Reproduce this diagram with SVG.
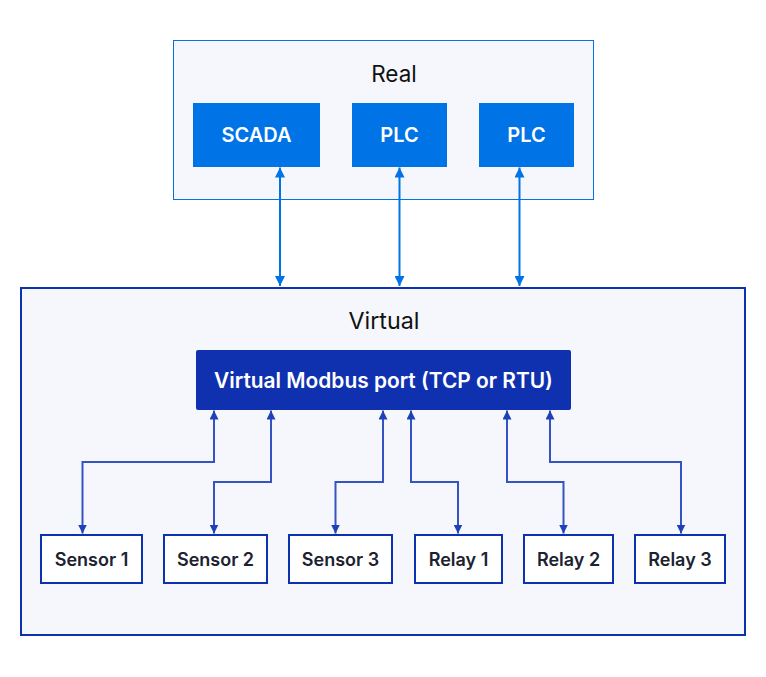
<svg xmlns="http://www.w3.org/2000/svg" width="766" height="677" viewBox="0 0 766 677">
<style>
.grp{fill:#f5f7fc}
.title{font-family:Inter,"Liberation Sans",sans-serif;font-size:22.5px;fill:#111;text-anchor:middle}
.rn{fill:#0073e6}
.wt{font-family:Inter,"Liberation Sans",sans-serif;font-size:20px;font-weight:600;fill:#fff;text-anchor:middle}
.vn{fill:#fff;stroke:#0d32b0;stroke-width:2}
.dt{font-family:Inter,"Liberation Sans",sans-serif;font-size:18px;font-weight:600;fill:#1c2230;text-anchor:middle}
.ca{fill:none;stroke:#0073e6;stroke-width:2}
.cv{fill:none;stroke:#3554c2;stroke-width:2}
</style>
<defs>
<marker id="ab" viewBox="0 0 10 10" refX="10" refY="5" markerWidth="5" markerHeight="5" orient="auto-start-reverse" markerUnits="strokeWidth">
<path d="M0,0 L10,5 L0,10 z" fill="#0073e6"/>
</marker>
<marker id="av" viewBox="0 0 10 10" refX="10" refY="5" markerWidth="4.5" markerHeight="4.5" orient="auto-start-reverse" markerUnits="strokeWidth">
<path d="M0,0 L10,5 L0,10 z" fill="#1e40b8"/>
</marker>
</defs>
<rect width="766" height="677" fill="#fff"/>
<g id="real">
<rect class="grp" x="173.5" y="40.5" width="420" height="159" stroke="#0073e6" stroke-width="1"/>
<text class="title" x="394" y="82">Real</text>
</g>
<g id="virtual">
<rect class="grp" x="21" y="288" width="724" height="347" stroke="#0d32b0" stroke-width="2"/>
<text class="title" x="384" y="329" style="font-size:23.3px">Virtual</text>
</g>
<g id="scada"><rect class="rn" x="193" y="103" width="127" height="64"/><text class="wt" x="256.5" y="142">SCADA</text></g>
<g id="plc1"><rect class="rn" x="352" y="103" width="95" height="64"/><text class="wt" x="399.5" y="142">PLC</text></g>
<g id="plc2"><rect class="rn" x="479" y="103" width="95" height="64"/><text class="wt" x="526.5" y="142">PLC</text></g>
<g id="modbus"><rect x="196" y="350" width="375" height="60" rx="2" fill="#0f31b0"/><text class="wt" x="383.5" y="388" style="font-size:20.9px">Virtual Modbus port (TCP or RTU)</text></g>
<g id="sensor1"><rect class="vn" x="41" y="535" width="101" height="48"/><text class="dt" x="91.5" y="566">Sensor 1</text></g>
<g id="sensor2"><rect class="vn" x="164" y="535" width="103" height="48"/><text class="dt" x="215.5" y="566">Sensor 2</text></g>
<g id="sensor3"><rect class="vn" x="289" y="535" width="103" height="48"/><text class="dt" x="340.5" y="566">Sensor 3</text></g>
<g id="relay1"><rect class="vn" x="415" y="535" width="87" height="48"/><text class="dt" x="458.5" y="566">Relay 1</text></g>
<g id="relay2"><rect class="vn" x="524" y="535" width="89" height="48"/><text class="dt" x="568.5" y="566">Relay 2</text></g>
<g id="relay3"><rect class="vn" x="635" y="535" width="90" height="48"/><text class="dt" x="680" y="566">Relay 3</text></g>
<g id="connectors">
<path class="ca" d="M280,167.5 V286" marker-start="url(#ab)" marker-end="url(#ab)"/>
<path class="ca" d="M399.5,167.5 V286" marker-start="url(#ab)" marker-end="url(#ab)"/>
<path class="ca" d="M519.5,167.5 V286" marker-start="url(#ab)" marker-end="url(#ab)"/>
<path class="cv" d="M214,410.5 V462 H82.5 V533.5" marker-start="url(#av)" marker-end="url(#av)"/>
<path class="cv" d="M271,410.5 V482 H214 V533.5" marker-start="url(#av)" marker-end="url(#av)"/>
<path class="cv" d="M383,410.5 V482 H335.5 V533.5" marker-start="url(#av)" marker-end="url(#av)"/>
<path class="cv" d="M411,410.5 V482 H458 V533.5" marker-start="url(#av)" marker-end="url(#av)"/>
<path class="cv" d="M507,410.5 V482 H563.5 V533.5" marker-start="url(#av)" marker-end="url(#av)"/>
<path class="cv" d="M550,410.5 V462 H681 V533.5" marker-start="url(#av)" marker-end="url(#av)"/>
</g>
</svg>
